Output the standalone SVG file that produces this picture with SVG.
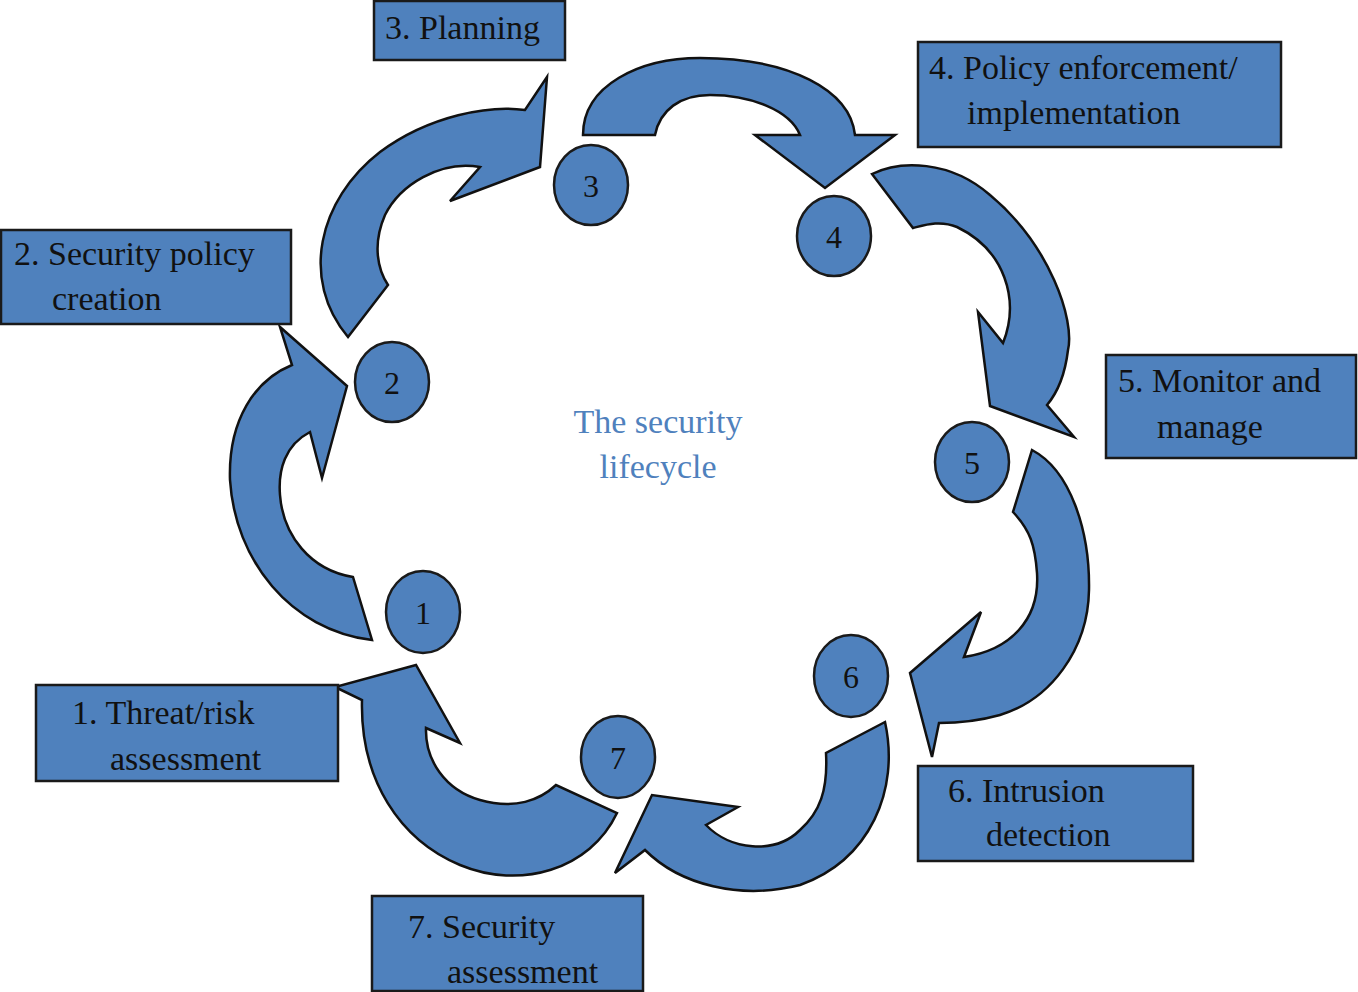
<svg xmlns="http://www.w3.org/2000/svg" width="1358" height="992" viewBox="0 0 1358 992">
<style>
.a{fill:#4F81BD;stroke:#111;stroke-width:2.5;stroke-linejoin:miter}
.b{fill:#4F81BD;stroke:#1a1a1a;stroke-width:2.5}
.t{font-family:"Liberation Serif",serif;font-size:34px;fill:#111}
.n{font-family:"Liberation Serif",serif;font-size:32px;fill:#111;text-anchor:middle}
.c{font-family:"Liberation Serif",serif;font-size:34px;fill:#4F81BD;text-anchor:middle}
</style>
<rect width="1358" height="992" fill="#fff"/>
<g id="connectors">
<path class="a" d="M 372,640 C 290,630 235,560 230,480 C 228,420 255,380 292,365 L 280,327 L 347,386 L 322,478 L 310,432 C 285,445 278,470 280,495 C 283,535 310,570 353,577 Z"/>
<path class="a" d="M 348,337 C 300,280 318,200 380,152 C 430,115 490,105 525,110 L 547,77 L 540,167 L 450,201 L 480,167 C 440,160 400,185 385,215 C 372,245 378,270 388,285 Z"/>
<path class="a" d="M 583,135 C 583,85 640,58 700,58 C 790,58 850,90 855,135 L 895,135 L 825,188 L 755,135 L 800,135 C 790,110 750,95 710,95 C 680,95 660,110 655,135 Z"/>
<path class="a" d="M 872,174 C 900,160 950,160 990,195 C 1050,245 1075,320 1068,350 C 1065,375 1058,392 1047,405 L 1074,437 L 990,406 L 978,312 L 1003,343 C 1020,300 1005,250 957,227 C 940,220 925,225 913,228 Z"/>
<path class="a" d="M 1032,450 C 1070,470 1090,530 1089,590 C 1088,650 1050,700 1000,715 C 975,722 955,723 939,723 L 932,757 L 910,673 L 981,612 L 964,657 C 1010,650 1040,620 1037,573 C 1035,545 1030,530 1013,512 Z"/>
<path class="a" d="M 885,722 C 900,790 870,860 800,885 C 740,900 680,885 645,850 L 615,873 L 652,795 L 738,807 L 706,825 C 730,850 775,855 800,830 C 820,812 828,790 826,753 Z"/>
<path class="a" d="M 617,813 C 590,870 520,890 460,865 C 400,840 360,780 362,700 L 335,687 L 416,665 L 460,743 L 426,728 C 425,760 445,790 480,800 C 515,810 540,800 556,785 Z"/>
</g>
<g id="c1"><ellipse class="b" cx="423" cy="612" rx="37" ry="41"/><text class="n" x="423" y="624">1</text></g>
<g id="c2"><ellipse class="b" cx="392" cy="382" rx="37" ry="40"/><text class="n" x="392" y="394">2</text></g>
<g id="c3"><ellipse class="b" cx="591" cy="185" rx="37" ry="40"/><text class="n" x="591" y="197">3</text></g>
<g id="c4"><ellipse class="b" cx="834" cy="236" rx="37" ry="40"/><text class="n" x="834" y="248">4</text></g>
<g id="c5"><ellipse class="b" cx="972" cy="462" rx="37" ry="40"/><text class="n" x="972" y="474">5</text></g>
<g id="c6"><ellipse class="b" cx="851" cy="676" rx="37" ry="41"/><text class="n" x="851" y="688">6</text></g>
<g id="c7"><ellipse class="b" cx="618" cy="757" rx="37" ry="41"/><text class="n" x="618" y="769">7</text></g>
<g id="box1"><rect class="b" x="36" y="685" width="302" height="96"/><text class="t" x="72" y="724">1. Threat/risk</text><text class="t" x="110" y="770">assessment</text></g>
<g id="box2"><rect class="b" x="1" y="230" width="290" height="94"/><text class="t" x="14" y="265">2. Security policy</text><text class="t" x="52" y="310">creation</text></g>
<g id="box3"><rect class="b" x="374" y="1" width="191" height="59"/><text class="t" x="385" y="39">3. Planning</text></g>
<g id="box4"><rect class="b" x="918" y="42" width="363" height="105"/><text class="t" x="929" y="79">4. Policy enforcement/</text><text class="t" x="967" y="124">implementation</text></g>
<g id="box5"><rect class="b" x="1106" y="355" width="250" height="103"/><text class="t" x="1118" y="392">5. Monitor and</text><text class="t" x="1157" y="438">manage</text></g>
<g id="box6"><rect class="b" x="918" y="766" width="275" height="95"/><text class="t" x="948" y="802">6. Intrusion</text><text class="t" x="986" y="846">detection</text></g>
<g id="box7"><rect class="b" x="372" y="896" width="271" height="95"/><text class="t" x="408" y="938">7. Security</text><text class="t" x="447" y="983">assessment</text></g>
<g id="center"><text class="c" x="658" y="433">The security</text><text class="c" x="658" y="478">lifecycle</text></g>
</svg>
